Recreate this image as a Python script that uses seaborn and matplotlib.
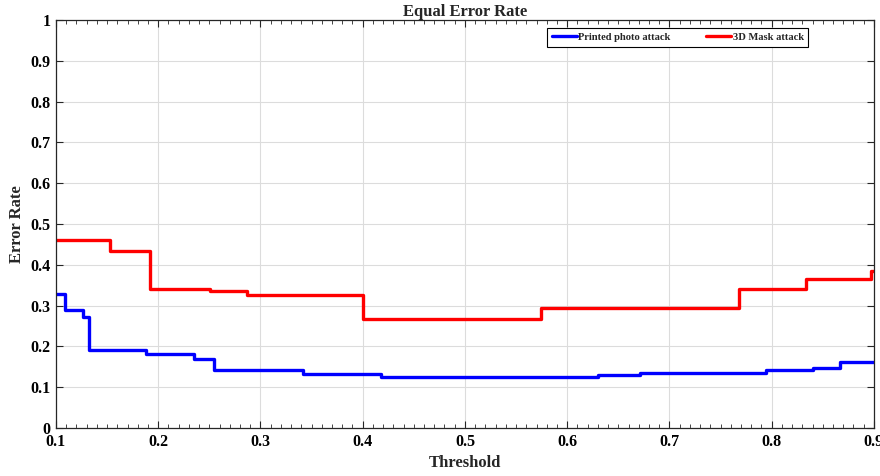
import numpy as np
import pandas as pd
import matplotlib
matplotlib.use("Agg")
import matplotlib.pyplot as plt
import seaborn as sns
from matplotlib.ticker import MultipleLocator

# Step-wise error rate per threshold (value holds until the next threshold)
photo_thr = [0.1, 0.109, 0.126, 0.132, 0.188, 0.235, 0.255, 0.342, 0.418, 0.630, 0.671, 0.794, 0.840, 0.867, 0.9]
photo_err = [0.329, 0.289, 0.273, 0.192, 0.181, 0.168, 0.143, 0.133, 0.125, 0.130, 0.136, 0.142, 0.146, 0.161, 0.161]

mask_thr = [0.1, 0.153, 0.192, 0.251, 0.287, 0.400, 0.574, 0.768, 0.834, 0.897, 0.9]
mask_err = [0.462, 0.435, 0.341, 0.335, 0.326, 0.267, 0.293, 0.340, 0.364, 0.384, 0.384]

series_names = ["Printed photo attack", "3D Mask attack"]
x_ticks = [0.1, 0.2, 0.3, 0.4, 0.5, 0.6, 0.7, 0.8, 0.9]
y_ticks = [0, 0.1, 0.2, 0.3, 0.4, 0.5, 0.6, 0.7, 0.8, 0.9, 1]

df = pd.concat([
    pd.DataFrame({"Threshold": photo_thr, "Error Rate": photo_err, "Attack": series_names[0]}),
    pd.DataFrame({"Threshold": mask_thr, "Error Rate": mask_err, "Attack": series_names[1]}),
], ignore_index=True)

sns.set_theme(style="whitegrid")
plt.rcParams["font.family"] = ["Liberation Serif", "DejaVu Serif"]
plt.rcParams["font.weight"] = "bold"

fig = plt.figure(figsize=(8.8, 4.76), dpi=100)
ax = fig.add_axes([0.0636, 0.1008, 0.9295, 0.8572])

sns.lineplot(data=df, x="Threshold", y="Error Rate", hue="Attack",
             palette={series_names[0]: "#0000ff", series_names[1]: "#ff0000"},
             drawstyle="steps-post", linewidth=2.4, sort=False, ax=ax)

ax.set_xlim(0.1, 0.9)
ax.set_ylim(0, 1)
ax.set_xticks(x_ticks)
ax.set_xticklabels([f"{t:g}" for t in x_ticks])
ax.set_yticks(y_ticks)
ax.set_yticklabels([f"{t:g}" for t in y_ticks])
ax.xaxis.set_minor_locator(MultipleLocator(0.01))

ax.grid(True, which="major", color="#dcdcdc", linewidth=0.8)
ax.grid(False, which="minor")
for s in ax.spines.values():
    s.set_visible(True)
    s.set_color("#262626")
    s.set_linewidth(0.9)

ax.tick_params(axis="both", which="both", direction="in", top=True, right=True,
               bottom=True, left=True, colors="#262626", labelsize=11.5, pad=4)
ax.tick_params(axis="both", which="major", length=5, width=0.8)
ax.tick_params(axis="x", which="minor", length=3, width=0.6)
for lab in ax.get_xticklabels() + ax.get_yticklabels():
    lab.set_fontweight("bold")
    lab.set_color("black")

ax.set_title("Equal Error Rate", fontsize=12, fontweight="bold", pad=2)
ax.set_xlabel("Threshold", fontsize=12, fontweight="bold", labelpad=4)
ax.set_ylabel("Error Rate", fontsize=12, fontweight="bold", labelpad=4)

leg = ax.legend(loc="upper right", bbox_to_anchor=(0.92, 0.981), ncol=2,
                frameon=True, fancybox=False, framealpha=1, edgecolor="black",
                prop={"weight": "bold", "size": 7.6}, handlelength=2.4,
                columnspacing=3.3, borderpad=0.45, handletextpad=0.15,
                borderaxespad=0)
leg.get_frame().set_linewidth(0.8)
leg.set_title(None)

fig.savefig("out.png", dpi=100)
